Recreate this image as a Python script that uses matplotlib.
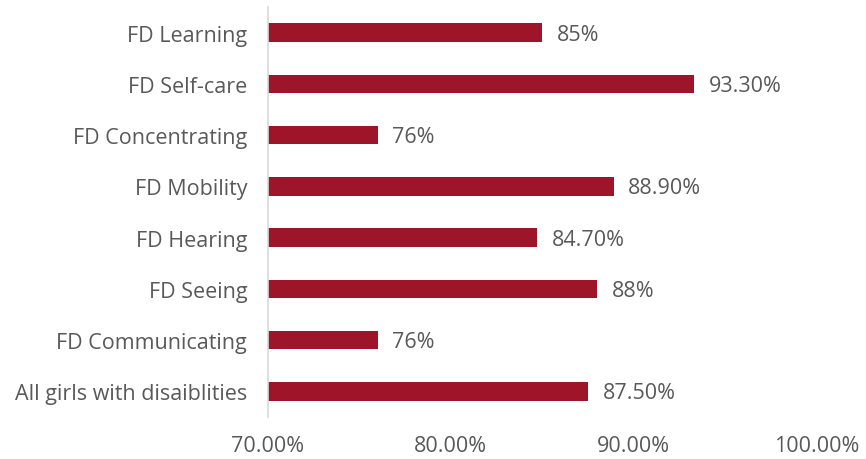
import matplotlib.pyplot as plt
import numpy as np

categories = ["All girls with disaiblities", "FD Communicating", "FD Seeing", "FD Hearing",
              "FD Mobility", "FD Concentrating", "FD Self-care", "FD Learning"]
values = [87.5, 76, 88, 84.7, 88.9, 76, 93.3, 85]
value_labels = ["87.50%", "76%", "88%", "84.70%", "88.90%", "76%", "93.30%", "85%"]
xticks = [70, 80, 90, 100]
xtick_labels = ["70.00%", "80.00%", "90.00%", "100.00%"]

plt.rcParams['font.family'] = ['Open Sans', 'DejaVu Sans']
text_color = '#595959'
bar_color = '#9E1529'
fs = 15.5

fig = plt.figure(figsize=(8.66, 4.6), dpi=100)
ax = fig.add_axes([0.3095, 0.0913, 0.943 - 0.3095, 0.9826 - 0.0913])

y = np.arange(len(categories))
ax.barh(y, [v - 70 for v in values], left=70, height=0.36, color=bar_color)
for yi, v, lab in zip(y, values, value_labels):
    ax.text(v + 0.8, yi - 0.03, lab, va='center', ha='left', fontsize=fs, color=text_color)

ax.set_xlim(70, 100)
ax.set_ylim(-0.5, len(categories) - 0.5)
ax.set_yticks(y)
ax.set_yticklabels(categories, fontsize=fs, color=text_color)
ax.set_xticks(xticks)
ax.set_xticklabels(xtick_labels, fontsize=fs, color=text_color)
ax.tick_params(axis='both', length=0)
ax.tick_params(axis='x', pad=13)
ax.tick_params(axis='y', pad=15)

for s in ['top', 'right', 'bottom']:
    ax.spines[s].set_visible(False)
ax.spines['left'].set_color('#D9D9D9')
ax.spines['left'].set_linewidth(1.2)

fig.savefig('out.png', dpi=100)
